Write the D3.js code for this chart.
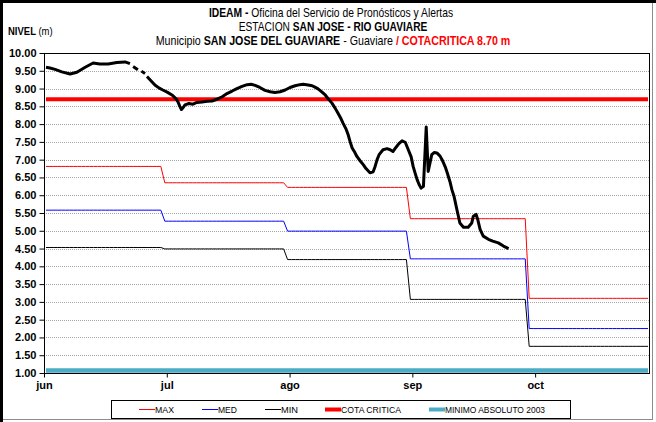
<!DOCTYPE html>
<html>
<head>
<meta charset="utf-8">
<script src="https://cdn.jsdelivr.net/npm/d3@7"></script>
<style>
  body { margin: 0; background: #fff; }
  svg { display: block; }
  .narrow { font-family: "Liberation Sans Narrow", "Arial Narrow", "Liberation Sans", Arial, sans-serif; }
  .wide { font-family: "Liberation Sans", Arial, sans-serif; }
</style>
</head>
<body>
<svg id="chart" width="656" height="422"></svg>
<script>
// Monthly reference levels (m), applied day by day across each month
const months = ["jun", "jul", "ago", "sep", "oct"];
const monthStartDay = [1, 31, 62, 93, 123];
const maxLevel = [6.81, 6.35, 6.22, 5.34, 3.10];
const medLevel = [5.58, 5.27, 4.99, 4.21, 2.25];
const minLevel = [4.53, 4.49, 4.19, 3.07, 1.75];
const cotaCritica = 8.70;
const minimoAbsoluto2003 = 1.07;
const totalDays = 153;

// Axis ticks
const yTickValues = [1.0, 1.5, 2.0, 2.5, 3.0, 3.5, 4.0, 4.5, 5.0, 5.5, 6.0, 6.5, 7.0, 7.5, 8.0, 8.5, 9.0, 9.5, 10.0];
const xTickDays = [0, 31, 62, 93, 124];

// Observed stage readings: day since 31 May (1 = 1 jun), level in m; null = missing reading
const obsDay = [1.0, 2.0, 3.3, 5.0, 7.1, 8.8, 10.9, 12.9, 14.6, 16.7, 18.9, 20.95, 22.2, null,
  23.0, 24.2, null, 25.1, 26.0, null,
  26.5, 27.5, 28.5, 29.5, 30.5, 31.6, 32.8, 33.8, 34.3, 34.8, 35.2, 35.6, 36.1, 37.1, 38.1, 39.1,
  40.4, 41.7, 42.9, 44.2, 45.5, 46.7, 48.0, 49.2, 50.5, 51.8, 52.8, 53.8, 55.0, 56.3, 57.6, 58.8,
  60.1, 61.4, 62.6, 63.9, 65.1, 65.9, 67.2, 68.2, 68.9, 69.7, 70.7, 71.5, 72.2, 73.2, 74.0, 74.7,
  75.5, 76.0, 76.8, 77.3, 77.8, 78.3, 79.0, 79.5, 80.3, 81.1, 81.8, 82.8, 83.6, 84.1, 84.6, 85.1,
  86.1, 87.1, 87.9, 88.6, 89.4, 90.1, 90.9, 91.7, 92.4, 93.2, 93.7, 94.2, 94.7, 95.2, 95.7, 96.3,
  97.0, 97.5, 98.4, 99.0, 99.7, 100.5, 101.0, 101.8, 102.3, 103.0, 103.5, 104.0, 104.7, 105.5,
  106.4, 107.6, 108.5, 108.9, 109.6, 110.0, 110.6, 111.4, 112.7, 113.8, 115.2, 116.5, 117.8];
const obsLevel = [9.60, 9.58, 9.54, 9.47, 9.41, 9.46, 9.60, 9.72, 9.69, 9.69, 9.73, 9.75, 9.70, null,
  9.62, 9.53, null, 9.49, 9.42, null,
  9.34, 9.22, 9.10, 9.02, 8.96, 8.90, 8.82, 8.72, 8.63, 8.50, 8.41, 8.46, 8.54, 8.58, 8.56, 8.61,
  8.62, 8.64, 8.65, 8.70, 8.77, 8.86, 8.93, 9.00, 9.06, 9.11, 9.12, 9.09, 9.03, 8.95, 8.91, 8.89,
  8.91, 8.96, 9.03, 9.08, 9.11, 9.12, 9.10, 9.08, 9.04, 8.99, 8.90, 8.82, 8.72, 8.59, 8.45, 8.31,
  8.15, 8.03, 7.85, 7.70, 7.50, 7.33, 7.20, 7.09, 6.97, 6.86, 6.75, 6.63, 6.66, 6.81, 7.00, 7.14,
  7.28, 7.31, 7.28, 7.23, 7.35, 7.45, 7.53, 7.49, 7.30, 7.08, 6.81, 6.62, 6.44, 6.30, 6.20, 6.25,
  7.92, 6.67, 7.14, 7.20, 7.19, 7.10, 7.00, 6.80, 6.63, 6.38, 6.15, 5.98, 5.62, 5.22,
  5.10, 5.10, 5.22, 5.41, 5.46, 5.32, 5.04, 4.85, 4.76, 4.71, 4.66, 4.57, 4.50];

const svg = d3.select("#chart");
const W = 656, H = 422;
const plot = { left: 44, right: 650, top: 53, bottom: 373 };

// x: day boundaries (0 = start of 1 jun); a day d is centred at d - 0.5
const x = d3.scaleLinear().domain([0, totalDays]).range([plot.left, plot.right]);
const y = d3.scaleLinear().domain([1, 10]).range([plot.bottom, plot.top]);
const xd = d => x(d - 0.5);

// Outer frame
svg.append("rect").attr("x", 0.5).attr("y", 0.5).attr("width", W - 4).attr("height", H - 3)
  .attr("fill", "#fff").attr("stroke", "#8c8c8c").attr("stroke-width", 1);
svg.append("line").attr("x1", 0).attr("x2", W).attr("y1", 1.5).attr("y2", 1.5).attr("stroke", "#000").attr("stroke-width", 3);
svg.append("line").attr("x1", 1.5).attr("x2", 1.5).attr("y1", 0).attr("y2", H).attr("stroke", "#000").attr("stroke-width", 3);

// Horizontally condensed text line made of styled runs
function condensedLine(tx, ty, sx, anchor, size, parts) {
  const g = svg.append("g").attr("transform", `translate(${tx},${ty}) scale(${sx},1)`);
  const t = g.append("text").attr("class", "narrow").attr("text-anchor", anchor).attr("font-size", size);
  parts.forEach(p => {
    const s = t.append("tspan").text(p.text);
    if (p.bold) s.attr("font-weight", "bold");
    if (p.color) s.attr("fill", p.color);
  });
}

// Titles
condensedLine(331, 17, 0.86, "middle", 12, [
  { text: "IDEAM - ", bold: true },
  { text: "Oficina del Servicio de Pronósticos y Alertas" }
]);
condensedLine(333, 31, 0.85, "middle", 12, [
  { text: "ESTACION " },
  { text: "SAN JOSE - RIO GUAVIARE", bold: true }
]);
condensedLine(333, 45, 0.89, "middle", 12, [
  { text: "Municipio " },
  { text: "SAN JOSE DEL GUAVIARE", bold: true },
  { text: " - Guaviare " },
  { text: "  /  COTACRITICA 8.70 m", bold: true, color: "#ff0000" }
]);
condensedLine(8, 35, 0.95, "start", 10, [
  { text: "NIVEL ", bold: true },
  { text: "(m)" }
]);

// Gridlines
svg.append("g").selectAll("line").data(yTickValues.filter(v => v > 1 && v < 10)).join("line")
  .attr("x1", plot.left).attr("x2", plot.right)
  .attr("y1", d => Math.round(y(d)) + 0.5).attr("y2", d => Math.round(y(d)) + 0.5)
  .attr("stroke", "#a6a6a6").attr("stroke-width", 1).attr("stroke-dasharray", "1,1");

// Daily expansion of the monthly reference levels
const days = d3.range(1, totalDays + 1);
const monthOf = d => d3.bisectRight(monthStartDay, d) - 1;
const stepLine = d3.line().x(d => xd(d.day)).y(d => y(d.v));
const stepSeries = [
  { levels: maxLevel, color: "#ff0000" },
  { levels: medLevel, color: "#0000ff" },
  { levels: minLevel, color: "#000000" }
];
stepSeries.forEach(s => {
  svg.append("path")
    .attr("d", stepLine(days.map(d => ({ day: d, v: s.levels[monthOf(d)] }))))
    .attr("fill", "none").attr("stroke", s.color).attr("stroke-width", 1);
});

// Critical level and 2003 absolute minimum
svg.append("path").attr("d", stepLine(days.map(d => ({ day: d, v: cotaCritica }))))
  .attr("fill", "none").attr("stroke", "#ff0000").attr("stroke-width", 4);
svg.append("path").attr("d", stepLine(days.map(d => ({ day: d, v: minimoAbsoluto2003 }))))
  .attr("fill", "none").attr("stroke", "#4bacc6").attr("stroke-width", 4.5);

// Observed level
const obs = obsDay.map((d, i) => ({ day: d, v: obsLevel[i] }));
svg.append("path")
  .attr("d", d3.line().defined(d => d.v !== null).x(d => xd(d.day)).y(d => y(d.v))(obs))
  .attr("fill", "none").attr("stroke", "#000").attr("stroke-width", 3)
  .attr("stroke-linejoin", "round").attr("stroke-linecap", "butt");

// Plot frame
svg.append("rect").attr("x", plot.left + 0.5).attr("y", plot.top + 0.5)
  .attr("width", plot.right - plot.left - 1).attr("height", plot.bottom - plot.top)
  .attr("fill", "none").attr("stroke", "#000").attr("stroke-width", 1);

// Axes
const yAxis = d3.axisLeft(y).tickValues(yTickValues).tickFormat(d3.format(".2f")).tickSize(5).tickPadding(3);
const gy = svg.append("g").attr("transform", `translate(${plot.left + 0.5},0)`).call(yAxis);
gy.select(".domain").remove();
gy.selectAll("text").attr("class", "wide").attr("font-size", 11).attr("font-weight", "bold").attr("fill", "#000");

const xAxis = d3.axisBottom(x).tickValues(xTickDays).tickFormat((d, i) => months[i]).tickSize(4).tickPadding(4);
const gx = svg.append("g").attr("transform", `translate(0,${plot.bottom + 0.5})`).call(xAxis);
gx.select(".domain").remove();
gx.selectAll("text").attr("class", "wide").attr("font-size", 11).attr("font-weight", "bold").attr("fill", "#000");

// Legend
const legendItems = [
  { label: "MAX", color: "#ff0000", w: 1, x: 139, tw: 19 },
  { label: "MED", color: "#0000ff", w: 1, x: 202, tw: 19 },
  { label: "MIN", color: "#000000", w: 1, x: 265, tw: 17 },
  { label: "COTA CRITICA", color: "#ff0000", w: 4, x: 325, tw: 60 },
  { label: "MINIMO ABSOLUTO 2003", color: "#4bacc6", w: 4, x: 429, tw: 100 }
];
svg.append("rect").attr("x", 111.5).attr("y", 400.5).attr("width", 459).attr("height", 18)
  .attr("fill", "#fff").attr("stroke", "#000").attr("stroke-width", 1);
const lg = svg.append("g").selectAll("g").data(legendItems).join("g");
lg.append("line").attr("x1", d => d.x).attr("x2", d => d.x + 16).attr("y1", 409.5).attr("y2", 409.5)
  .attr("stroke", d => d.color).attr("stroke-width", d => d.w);
lg.append("text").attr("class", "narrow").attr("x", d => d.x + 16).attr("y", 413)
  .attr("font-size", 9.5).attr("textLength", d => d.tw).attr("lengthAdjust", "spacingAndGlyphs")
  .text(d => d.label);
</script>
</body>
</html>
